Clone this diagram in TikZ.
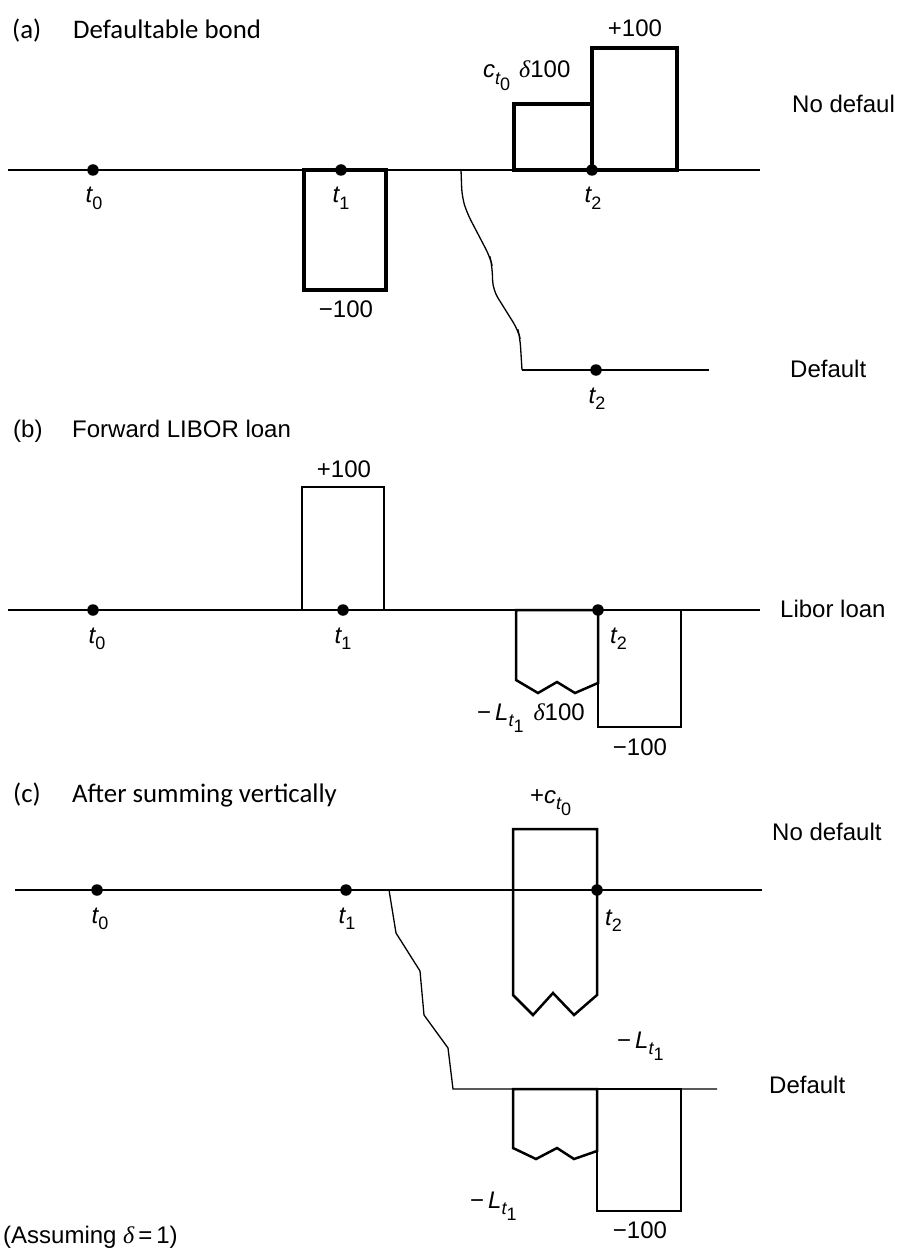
\documentclass[tikz,border=0pt]{standalone}
\usepackage{fontspec}
\setmainfont{Liberation Sans}
\newfontfamily\calib{Carlito}
\newfontfamily\serif{Liberation Serif}
\newcommand\subt[1]{\raisebox{-0.28em}{\fontsize{18}{18}\selectfont #1}}
\newcommand\tlab[1]{{\itshape t}\subt{#1}}
\newcommand\ctz{{\itshape c}\raisebox{-0.28em}{\fontsize{18}{18}\selectfont\itshape t\raisebox{-0.3em}{\upshape 0}}}
\newcommand\Lto{−\,{\itshape L}\raisebox{-0.28em}{\fontsize{18}{18}\selectfont\itshape t\raisebox{-0.3em}{\upshape 1}}}
\newcommand\dlt{{\serif\itshape δ}}
\begin{document}
\begin{tikzpicture}[x=1pt,y=-1pt,
  axis/.style={line width=1.6pt},
  boxa/.style={line width=3.2pt},
  boxb/.style={line width=2.5pt},
  curve/.style={line width=1.3pt},
  dot/.style={circle, fill, inner sep=0pt, minimum size=11.5pt},
  lbl/.style={inner sep=0pt, font=\fontsize{24}{28}\selectfont},
  hdr/.style={inner sep=0pt, font=\calib\fontsize{26.8}{32}\selectfont}]
\useasboundingbox (0,0) rectangle (897,1257);
\fill[white] (0,0) rectangle (897,1257);

% ---------------- panel (a)
\node[hdr, anchor=base west] (ha) at (12,39) {(a)};
\node[hdr, anchor=base west] (hat) at (73,39) {Defaultable bond};
\coordinate (aL) at (8,170);
\coordinate (aR) at (760,170);
\draw[axis] (aL) -- (aR);
\draw[boxa] (304,170) rectangle (386,290);
\draw[boxa] (514,170) rectangle (592,104);
\draw[boxa] (592,170) rectangle (677,48);
\coordinate (aD0) at (461,170);
\coordinate (aD1) at (522,370);
\coordinate (aD2) at (709,370);
\draw[curve, rounded corners=9pt] (aD0) -- (462,197) -- (467,213) -- (490,257) -- (492,265) -- (493,290) -- (518,330) -- (520,338) -- (aD1);
\draw[curve] (aD1) -- (aD2);
\node[dot] (at0) at (93,170) {};
\node[dot] (at1) at (341,170) {};
\node[dot] (at2) at (592,170) {};
\node[dot] (at2d) at (596,370) {};
\node[lbl, anchor=base] (lat0) at (94,203) {\tlab{0}};
\node[lbl, anchor=base] (lat1) at (341,203) {\tlab{1}};
\node[lbl, anchor=base] (lat2) at (593,203) {\tlab{2}};
\node[lbl, anchor=base] (lat2d) at (597,403) {\tlab{2}};
\node[lbl, anchor=base] (am100) at (346,317) {−100};
\node[lbl, anchor=base] (ap100) at (635,37) {+100};
\node[lbl, anchor=base west] (act) at (483,78) {\ctz\hspace{9pt}\dlt100};
\node[lbl, anchor=base west] (anod) at (792,113) {No defaul};
\node[lbl, anchor=base west] (adef) at (790,377) {Default};

% ---------------- panel (b)
\node[lbl, anchor=base west] (hb) at (13,437) {(b)};
\node[lbl, anchor=base west] (hbt) at (72,437) {Forward LIBOR loan};
\coordinate (bL) at (8,610);
\coordinate (bR) at (760,610);
\draw[axis] (bL) -- (bR);
\draw[boxb] (302,610) rectangle (384,487);
\draw[boxb] (598,683) -- (598,610) -- (516,610) -- (516,680) -- (538,693) -- (557,682) -- (575,693) -- cycle;
\draw[boxb] (598,610) rectangle (681,727);
\node[dot] (bt0) at (93,610) {};
\node[dot] (bt1) at (343,610) {};
\node[dot] (bt2) at (598,610) {};
\node[lbl, anchor=base] (lbt0) at (97,643) {\tlab{0}};
\node[lbl, anchor=base] (lbt1) at (343,643) {\tlab{1}};
\node[lbl, anchor=base west] (lbt2) at (610,643) {\tlab{2}};
\node[lbl, anchor=base] (bp100) at (344,477) {+100};
\node[lbl, anchor=base west] (bL1) at (477,720) {\Lto\hspace{10pt}\dlt100};
\node[lbl, anchor=base] (bm100) at (640,755) {−100};
\node[lbl, anchor=base west] (blib) at (780,617) {Libor loan};

% ---------------- panel (c)
\node[hdr, anchor=base west] (hc) at (13,802) {(c)};
\node[hdr, anchor=base west] (hct) at (72,802) {After summing vertically};
\coordinate (cL) at (15,890);
\coordinate (cR) at (762,890);
\draw[axis] (cL) -- (cR);
\draw[boxb] (513,995) -- (513,829) -- (597,829) -- (597,995) -- (574,1015) -- (553,993) -- (533,1015) -- cycle;
\coordinate (cD0) at (389,890);
\coordinate (cD1) at (453,1089);
\coordinate (cD2) at (717,1089);
\draw[curve] (cD0) -- (396,933) -- (420,971) -- (424,1015) -- (448,1048) -- (cD1) -- (cD2);
\draw[boxb] (597,1151) -- (597,1089) -- (513,1089) -- (513,1148) -- (536,1159) -- (557,1148) -- (574,1159) -- cycle;
\draw[boxb] (597,1089) rectangle (681,1211);
\node[dot] (ct0) at (97,890) {};
\node[dot] (ct1) at (346,890) {};
\node[dot] (ct2) at (597,890) {};
\node[lbl, anchor=base] (lct0) at (100,923) {\tlab{0}};
\node[lbl, anchor=base] (lct1) at (347,923) {\tlab{1}};
\node[lbl, anchor=base west] (lct2) at (605,925) {\tlab{2}};
\node[lbl, anchor=base west] (cpc) at (530,803) {+\ctz};
\node[lbl, anchor=base west] (cnod) at (772,840) {No default};
\node[lbl, anchor=base west] (cdef) at (769,1093) {Default};
\node[lbl, anchor=base west] (cL1) at (617,1048) {\Lto};
\node[lbl, anchor=base west] (cL2) at (470,1208) {\Lto};
\node[lbl, anchor=base] (cm100) at (640,1238) {−100};
\node[lbl, anchor=base west] (cas) at (3,1243) {(Assuming \dlt\,=\,1)};
\end{tikzpicture}
\end{document}
